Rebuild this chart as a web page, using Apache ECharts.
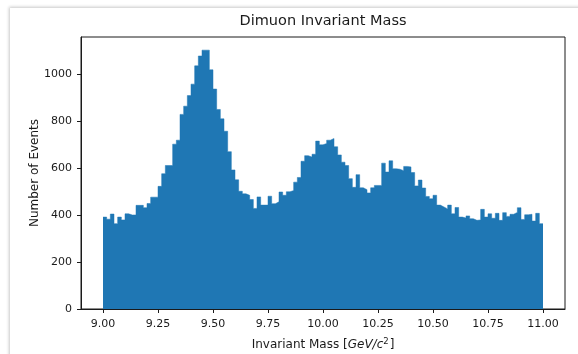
<!DOCTYPE html>
<html>
<head>
<meta charset="utf-8">
<script src="https://cdn.jsdelivr.net/npm/echarts@6/dist/echarts.min.js"></script>
<style>
  html, body { margin: 0; padding: 0; background: #ffffff; }
  #card {
    position: absolute; left: 10px; top: 8px; width: 640px; height: 420px;
    background: #ffffff; box-shadow: 0 0 3px 1px rgba(0, 0, 0, 0.22);
  }
  #chart { position: absolute; left: 0; top: 0; width: 578px; height: 354px; }
</style>
</head>
<body>
<div id="card"></div>
<div id="chart"></div>
<script>
// Histogram of dimuon invariant mass, 120 equal bins between massMin and massMax
const massMin = 9.0;
const massMax = 11.0;
const counts = [
  392, 383, 405, 364, 392, 380, 406, 401, 401, 442,
  442, 432, 450, 477, 477, 523, 577, 612, 612, 703,
  720, 830, 865, 910, 959, 1037, 1079, 1104, 1104, 1020,
  938, 851, 811, 758, 671, 593, 551, 502, 491, 485,
  467, 429, 478, 443, 443, 481, 449, 457, 499, 485,
  500, 505, 541, 561, 630, 654, 648, 660, 716, 700,
  706, 720, 727, 692, 657, 626, 612, 556, 519, 573,
  517, 509, 495, 517, 527, 527, 622, 584, 632, 598,
  596, 590, 608, 606, 582, 525, 550, 516, 480, 470,
  485, 443, 435, 427, 443, 406, 433, 392, 388, 397,
  385, 378, 380, 425, 392, 406, 387, 408, 378, 411,
  395, 404, 412, 432, 382, 402, 404, 375, 408, 364
];
const xTicks = [9.0, 9.25, 9.5, 9.75, 10.0, 10.25, 10.5, 10.75, 11.0];
const yTicks = [0, 200, 400, 600, 800, 1000];

const titleText = 'Dimuon Invariant Mass';
const yLabel = 'Number of Events';

// Step outline: each bin contributes its left edge and count; the closing
// point at massMax carries the last count so the final bin has full width.
const binWidth = (massMax - massMin) / counts.length;
const stepData = counts.map((c, i) => [massMin + i * binWidth, c]);
stepData.push([massMax, counts[counts.length - 1]]);

const font = 'DejaVu Sans';
const ink = '#1a1a1a';
const barColor = '#1f77b4';

const chart = echarts.init(document.getElementById('chart'), null, { renderer: 'canvas' });

const option = {
  animation: false,
  textStyle: { fontFamily: font },
  grid: {
    left: 81, right: 13, top: 37, bottom: 45,
    outerBoundsMode: 'none', containLabel: false,
    show: true, borderColor: ink, borderWidth: 1, backgroundColor: 'transparent'
  },
  graphic: [{
    type: 'text', x: 323, y: 21,
    style: {
      text: titleText, fill: ink, font: '14.5px "DejaVu Sans"',
      textAlign: 'center', textVerticalAlign: 'middle'
    }
  }],
  xAxis: {
    type: 'value', min: 8.9, max: 11.1,
    axisLine: { show: true, onZero: false, lineStyle: { color: ink, width: 1 } },
    axisTick: { show: true, customValues: xTicks, length: 4, lineStyle: { color: ink } },
    axisLabel: {
      customValues: xTicks, margin: 10, color: ink, fontSize: 11, fontFamily: font,
      formatter: v => v.toFixed(2)
    },
    splitLine: { show: false },
    name: 'Invariant Mass [{it|GeV/c}{sup|2}]',
    nameLocation: 'middle', nameGap: 28, nameMoveOverlap: false,
    nameTextStyle: {
      color: ink, fontSize: 12, fontFamily: font,
      rich: {
        it: { fontStyle: 'italic', fontSize: 12, color: ink, fontFamily: font },
        sup: { fontSize: 8.5, color: ink, fontFamily: font, verticalAlign: 'bottom', padding: [0, 1, 7, 0] }
      }
    }
  },
  yAxis: {
    type: 'value', min: 0, max: 1160,
    axisLine: { show: true, lineStyle: { color: ink, width: 1 } },
    axisTick: { show: true, customValues: yTicks, length: 4, lineStyle: { color: ink } },
    axisLabel: {
      customValues: yTicks, margin: 9, color: ink, fontSize: 11, fontFamily: font,
      formatter: v => String(v)
    },
    splitLine: { show: false },
    name: yLabel, nameLocation: 'middle', nameGap: 40, nameRotate: 90, nameMoveOverlap: false,
    nameTextStyle: { color: ink, fontSize: 12, fontFamily: font }
  },
  series: [{
    type: 'line',
    data: stepData,
    step: 'end',
    symbol: 'none',
    lineStyle: { color: barColor, width: 0.5 },
    areaStyle: { color: barColor, opacity: 1, origin: 'start' },
    z: 1
  }]
};

chart.setOption(option);
</script>
</body>
</html>
